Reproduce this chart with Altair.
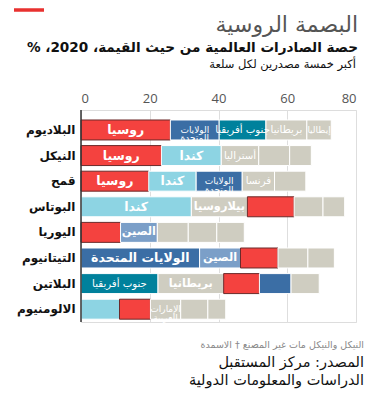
import altair as alt
import pandas as pd

# ---------------- data ----------------
commodities = ["البلاديوم", "النيكل", "قمح", "البوتاس", "اليوريا", "التيتانيوم", "البلاتين", "الالومنيوم"]

labels = [
    ["روسيا", "الولايات\nالمتحدة", "جنوب أفريقيا", "بريطانيا", "إيطاليا"],
    ["روسيا", "كندا", "أستراليا", "", ""],
    ["روسيا", "كندا", "الولايات\nالمتحدة", "فرنسا", ""],
    ["كندا", "بيلاروسيا", "", "", ""],
    ["", "الصين", "", "", ""],
    ["الولايات المتحدة", "الصين", "", "", ""],
    ["جنوب أفريقيا", "بريطانيا", "", "", ""],
    ["", "", "الإمارات\nالعربية", "", ""],
]

groups = [
    ["russia", "us", "sa", "other", "other"],
    ["russia", "canada", "other", "other", "other"],
    ["russia", "canada", "us", "other", "other"],
    ["canada", "other", "russia", "other", "other"],
    ["russia", "china", "other", "other", "other"],
    ["us", "china", "russia", "other", "other"],
    ["sa", "other", "russia", "us", "other"],
    ["canada", "russia", "other", "other", "other"],
]

shares = [
    [26.0, 14.2, 13.6, 11.9, 7.1],
    [23.4, 17.4, 10.9, 9.0, 6.3],
    [19.7, 13.8, 13.4, 9.4, 9.1],
    [32.1, 16.3, 13.6, 8.4, 6.3],
    [11.5, 10.7, 9.0, 8.3, 8.0],
    [34.5, 11.9, 10.9, 8.7, 7.7],
    [22.4, 19.1, 10.4, 9.2, 8.2],
    [11.2, 9.0, 8.8, 7.9, 5.2],
]

label_tier = [
    ["L", "XS", "S", "S", "XS"],
    ["L", "L", "S", "S", "S"],
    ["L", "L", "XS", "S", "S"],
    ["L", "M", "S", "S", "S"],
    ["S", "M", "S", "S", "S"],
    ["L", "M", "S", "S", "S"],
    ["S", "M", "S", "S", "S"],
    ["S", "S", "XS", "S", "S"],
]

x_ticks = [0, 20, 40, 60, 80]

title_text = "البصمة الروسية"
# number/percent tail placed first so the line ends with "… القيمة، 2020، %" as drawn
subtitle_text = "% ،2020 ،حصة الصادرات العالمية من حيث القيمة"
sub2_text = "أكبر خمسة مصدرين لكل سلعة"
note_text = "النيكل والنيكل مات غير المصنع † الاسمدة"
source1_text = "المصدر: مركز المستقبل"
source2_text = "الدراسات والمعلومات الدولية"

group_domain = ["russia", "us", "sa", "canada", "china", "other"]
group_colors = ["#f4423f", "#3b6ea5", "#00819c", "#8dd4e3", "#7b9fc8", "#cfcdc1"]

rows = []
for c, labs, grs, vals, tiers in zip(commodities, labels, groups, shares, label_tier):
    start = 0.0
    for lab, g, v, t in zip(labs, grs, vals, tiers):
        rows.append({
            "commodity": c,
            "label": lab,
            "group": g,
            "share": v,
            "start": start,
            "end": start + v,
            "mid": start + v / 2,
            "tier": t,
        })
        start += v
df = pd.DataFrame(rows)

AR_FONT = "DejaVu Sans"

y_enc = alt.Y(
    "commodity:N",
    sort=commodities,
    scale=alt.Scale(paddingInner=0.22, paddingOuter=0.25, align=0.78),
    axis=alt.Axis(
        title=None, ticks=False, domain=False, labelFontSize=12,
        labelFontWeight="bold", labelColor="#111", labelPadding=6,
        labelFont=AR_FONT,
    ),
)

x_scale = alt.Scale(domain=[0, 80], nice=False)

bars = alt.Chart(df).mark_bar(strokeWidth=1).encode(
    x=alt.X(
        "start:Q", scale=x_scale,
        axis=alt.Axis(
            orient="top", values=x_ticks, title=None, ticks=False, domain=False,
            grid=True, gridColor="#dedede", gridWidth=1, labelFontSize=13,
            labelColor="#555", labelPadding=5, labelFont="Open Sans",
        ),
    ),
    x2="end:Q",
    y=y_enc,
    color=alt.Color("group:N", scale=alt.Scale(domain=group_domain, range=group_colors), legend=None),
    stroke=alt.condition("datum.group == 'russia'", alt.value("#6b2a2a"), alt.value("white")),
)

size_scale = alt.Scale(domain=["L", "M", "S", "XS"], range=[12.5, 9, 7.5, 6.2])

bar_text_big = alt.Chart(df).transform_filter(
    "datum.label != '' && (datum.tier == 'L' || datum.tier == 'M')"
).mark_text(
    color="white", fontWeight="bold", font=AR_FONT, baseline="middle", align="center",
).encode(
    x=alt.X("mid:Q", scale=x_scale),
    y=alt.Y("commodity:N", sort=commodities),
    text="label:N",
    size=alt.Size("tier:N", scale=size_scale, legend=None),
)

bar_text_small = alt.Chart(df).transform_filter(
    "datum.label != '' && (datum.tier == 'S' || datum.tier == 'XS')"
).mark_text(
    color="white", fontWeight="normal", lineBreak="\n", font=AR_FONT, baseline="middle", align="center",
    lineHeight=8.5,
).encode(
    x=alt.X("mid:Q", scale=x_scale),
    y=alt.Y("commodity:N", sort=commodities),
    text="label:N",
    size=alt.Size("tier:N", scale=size_scale, legend=None),
)

zero_line = alt.Chart(pd.DataFrame({"v": [0]})).mark_rule(color="#333", strokeWidth=1.5).encode(
    x=alt.X("v:Q", scale=x_scale)
)

one = pd.DataFrame({"k": [0]})

accent = alt.Chart(one).mark_rule(color="#e8312f", strokeWidth=3.5).encode(
    x=alt.value(-67), x2=alt.value(-37), y=alt.value(-100)
)

t1 = alt.Chart(one).mark_text(align="right", baseline="middle", fontSize=22, color="#555", font=AR_FONT).encode(
    x=alt.value(277), y=alt.value(-85), text=alt.value(title_text)
)
t2 = alt.Chart(one).mark_text(align="right", baseline="middle", fontSize=13.6, fontWeight="bold", color="#111", font=AR_FONT).encode(
    x=alt.value(277), y=alt.value(-62), text=alt.value(subtitle_text)
)
t3 = alt.Chart(one).mark_text(align="right", baseline="middle", fontSize=11.5, color="#111", font=AR_FONT).encode(
    x=alt.value(275), y=alt.value(-45), text=alt.value(sub2_text)
)

f1 = alt.Chart(one).mark_text(align="right", baseline="middle", fontSize=9.5, color="#888", font=AR_FONT).encode(
    x=alt.value(283), y=alt.value(235), text=alt.value(note_text)
)
f2 = alt.Chart(one).mark_text(align="right", baseline="middle", fontSize=14.5, color="#111", font=AR_FONT).encode(
    x=alt.value(283), y=alt.value(253), text=alt.value(source1_text)
)
f3 = alt.Chart(one).mark_text(align="right", baseline="middle", fontSize=14.5, color="#111", font=AR_FONT).encode(
    x=alt.value(283), y=alt.value(271), text=alt.value(source2_text)
)

chart = alt.layer(bars, bar_text_big, bar_text_small, zero_line, accent, t1, t2, t3, f1, f2, f3).properties(
    width=275,
    height=212,
    autosize=alt.AutoSizeParams(type="none"),
    padding={"left": 73, "top": 102, "right": 16, "bottom": 70},
).configure_view(stroke=None).configure(background="white")

chart.save("out.html", embed_options={"renderer": "svg", "actions": False})
